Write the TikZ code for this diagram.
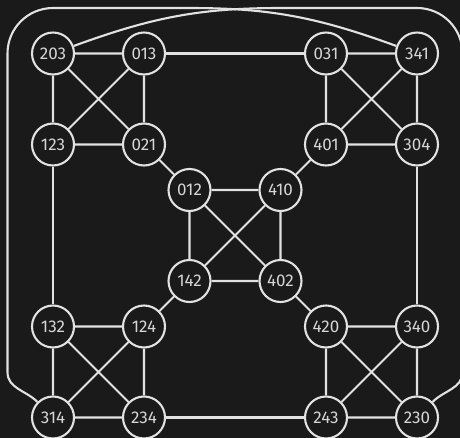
\documentclass[tikz,border=0pt]{standalone}
\usepackage{fontspec}
\setmainfont{Fira Sans}
\definecolor{bgdark}{RGB}{26,26,26}
\definecolor{fgline}{RGB}{226,226,226}
\definecolor{fgtext}{RGB}{214,214,214}
\tikzset{
  vertex/.style = {circle,draw=fgline,fill=bgdark,line width=2.1pt,
                   minimum size=42pt,inner sep=0pt,text=fgtext,
                   font=\fontsize{17}{20}\selectfont},
  link/.style   = {draw=fgline,line width=2.1pt},
}

\begin{document}
\begin{tikzpicture}[x=45.5pt,y=45.5pt]
  \fill[bgdark] (-1.165,-0.45) rectangle (8.945,9.176);
  \useasboundingbox (-1.165,-0.45) rectangle (8.945,9.176);
  % outer corners
  \node[vertex] (n203) at (0,8) {203};
  \node[vertex] (n013) at (2,8) {013};
  \node[vertex] (n123) at (0,6) {123};
  \node[vertex] (n021) at (2,6) {021};
  \node[vertex] (n031) at (6,8) {031};
  \node[vertex] (n341) at (8,8) {341};
  \node[vertex] (n401) at (6,6) {401};
  \node[vertex] (n304) at (8,6) {304};
  \node[vertex] (n132) at (0,2) {132};
  \node[vertex] (n124) at (2,2) {124};
  \node[vertex] (n314) at (0,0) {314};
  \node[vertex] (n234) at (2,0) {234};
  \node[vertex] (n420) at (6,2) {420};
  \node[vertex] (n340) at (8,2) {340};
  \node[vertex] (n243) at (6,0) {243};
  \node[vertex] (n230) at (8,0) {230};
  % centre
  \node[vertex] (n012) at (3,5) {012};
  \node[vertex] (n410) at (5,5) {410};
  \node[vertex] (n142) at (3,3) {142};
  \node[vertex] (n402) at (5,3) {402};
  % complete blocks
  \draw[link] (n203) -- (n013) (n203) -- (n123) (n203) -- (n021)
              (n013) -- (n123) (n013) -- (n021) (n123) -- (n021);
  \draw[link] (n031) -- (n341) (n031) -- (n401) (n031) -- (n304)
              (n341) -- (n401) (n341) -- (n304) (n401) -- (n304);
  \draw[link] (n132) -- (n124) (n132) -- (n314) (n132) -- (n234)
              (n124) -- (n314) (n124) -- (n234) (n314) -- (n234);
  \draw[link] (n420) -- (n340) (n420) -- (n243) (n420) -- (n230)
              (n340) -- (n243) (n340) -- (n230) (n243) -- (n230);
  \draw[link] (n012) -- (n410) (n012) -- (n142) (n012) -- (n402)
              (n410) -- (n142) (n410) -- (n402) (n142) -- (n402);
  % bridges
  \draw[link] (n013) -- (n031) (n123) -- (n132) (n304) -- (n340) (n234) -- (n243);
  \draw[link] (n021) -- (n012) (n410) -- (n401) (n142) -- (n124) (n402) -- (n420);
  % wrap-around links
  \draw[link] (n203) to[out=20,in=180] (5,9) -- (8,9) to[out=0,in=90] (9,8)
              -- (9,1) to[out=-90,in=45] (n230);
  \draw[link] (n341) to[out=160,in=0] (3,9) -- (0,9) to[out=180,in=90] (-1,8)
              -- (-1,1) to[out=-90,in=135] (n314);
\end{tikzpicture}
\end{document}
